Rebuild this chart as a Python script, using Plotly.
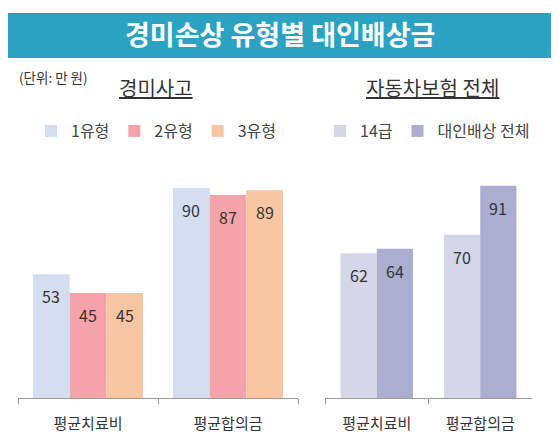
import plotly.graph_objects as go

# data
minor_categories = ["평균치료비", "평균합의금"]
minor_series = ["1유형", "2유형", "3유형"]
minor_values = [
    [53, 90],   # 1유형
    [45, 87],   # 2유형
    [45, 89],   # 3유형
]

total_categories = ["평균치료비", "평균합의금"]
total_series = ["14급", "대인배상 전체"]
total_values = [
    [62, 70],   # 14급
    [64, 91],   # 대인배상 전체
]

title_text = "경미손상 유형별 대인배상금"
unit_text = "(단위: 만 원)"
left_title = "경미사고"
right_title = "자동차보험 전체"

# styles
FONT = "Noto Sans CJK KR"
TEXT_COLOR = "#333333"
AXIS_COLOR = "#9a9a9a"
minor_colors = ["#d3dff0", "#f4a3aa", "#f8c5a2"]
total_colors = ["#d5d6e8", "#abaed1"]

# the page puts the figure 8px in from the top-left corner, so the
# figure is sized to fit the window and positions are given in window px
PAGE_PAD = 8
W, H = 559 - PAGE_PAD, 448 - PAGE_PAD


def px_x(x):
    return (x - PAGE_PAD) / W


def px_y(y):
    # window pixel from top -> paper fraction from bottom
    return (H - (y - PAGE_PAD)) / H


fig = go.Figure()
annotations = []

# left panel: three bars per category
left_w = 0.262
left_offsets = [-0.393, -0.131, 0.131]
for i, name in enumerate(minor_series):
    fig.add_trace(go.Bar(
        x=minor_categories, y=minor_values[i], name=name,
        marker=dict(color=minor_colors[i], line=dict(width=0)),
        width=left_w, offset=left_offsets[i],
        xaxis="x", yaxis="y", legend="legend",
        hoverinfo="x+y+name",
    ))
    for j, v in enumerate(minor_values[i]):
        annotations.append(dict(
            x=j + left_offsets[i] + left_w / 2, y=v, xref="x", yref="y",
            text=str(v), showarrow=False, yanchor="top", yshift=-8,
            font=dict(size=16, color=TEXT_COLOR, family=FONT),
        ))

# right panel: two bars per category
right_w = 0.35
right_offsets = [-0.35, 0.0]
for i, name in enumerate(total_series):
    fig.add_trace(go.Bar(
        x=total_categories, y=total_values[i], name=name,
        marker=dict(color=total_colors[i], line=dict(width=0)),
        width=right_w, offset=right_offsets[i],
        xaxis="x2", yaxis="y2", legend="legend2",
        hoverinfo="x+y+name",
    ))
    for j, v in enumerate(total_values[i]):
        annotations.append(dict(
            x=j + right_offsets[i] + right_w / 2, y=v, xref="x2", yref="y2",
            text=str(v), showarrow=False, yanchor="top", yshift=-8,
            font=dict(size=16, color=TEXT_COLOR, family=FONT),
        ))

# header texts
annotations += [
    dict(x=px_x(280), y=px_y(34), xref="paper", yref="paper",
         xanchor="center", yanchor="middle",
         text=f"<b>{title_text}</b>", showarrow=False,
         font=dict(size=27, color="white", family=FONT)),
    dict(x=px_x(17), y=px_y(77), xref="paper", yref="paper",
         xanchor="left", yanchor="middle",
         text=unit_text, showarrow=False,
         font=dict(size=13.5, color=TEXT_COLOR, family=FONT)),
    dict(x=px_x(156), y=px_y(88), xref="paper", yref="paper",
         xanchor="center", yanchor="middle",
         text=f"<u>{left_title}</u>", showarrow=False,
         font=dict(size=20, color=TEXT_COLOR, family=FONT)),
    dict(x=px_x(432), y=px_y(88), xref="paper", yref="paper",
         xanchor="center", yanchor="middle",
         text=f"<u>{right_title}</u>", showarrow=False,
         font=dict(size=20, color=TEXT_COLOR, family=FONT)),
]

xaxis_style = dict(
    type="category", showline=True, linecolor=AXIS_COLOR, linewidth=1,
    ticks="outside", tickson="boundaries", ticklen=5, tickcolor=AXIS_COLOR,
    showgrid=False, zeroline=False, fixedrange=True,
    tickfont=dict(size=15, color=TEXT_COLOR, family=FONT),
    ticklabelstandoff=12,
)
yaxis_style = dict(
    range=[0, 102], visible=False, showgrid=False, zeroline=False,
    domain=[px_y(398), px_y(160)], fixedrange=True,
)

legend_style = dict(
    orientation="h", yanchor="middle", xanchor="left",
    font=dict(size=16, color="#444444", family=FONT),
    bgcolor="rgba(0,0,0,0)", itemclick=False, itemdoubleclick=False,
    tracegroupgap=0,
)

fig.update_layout(
    width=W, height=H,
    margin=dict(l=0, r=0, t=0, b=0),
    paper_bgcolor="white", plot_bgcolor="white",
    barmode="overlay",
    font=dict(family=FONT, color=TEXT_COLOR),
    xaxis=dict(domain=[px_x(18), px_x(298)], anchor="y", **xaxis_style),
    xaxis2=dict(domain=[px_x(325), px_x(532)], anchor="y2", **xaxis_style),
    yaxis=dict(anchor="x", **yaxis_style),
    yaxis2=dict(anchor="x2", **yaxis_style),
    legend=dict(x=px_x(31), y=px_y(131), **legend_style),
    legend2=dict(x=px_x(320), y=px_y(131), **legend_style),
    annotations=annotations,
    shapes=[dict(
        type="rect", xref="paper", yref="paper",
        x0=px_x(8), x1=px_x(552), y0=px_y(58), y1=px_y(13),
        fillcolor="#2ba2c1", line=dict(width=0), layer="below",
    )],
)

fig.write_html("out.html")
